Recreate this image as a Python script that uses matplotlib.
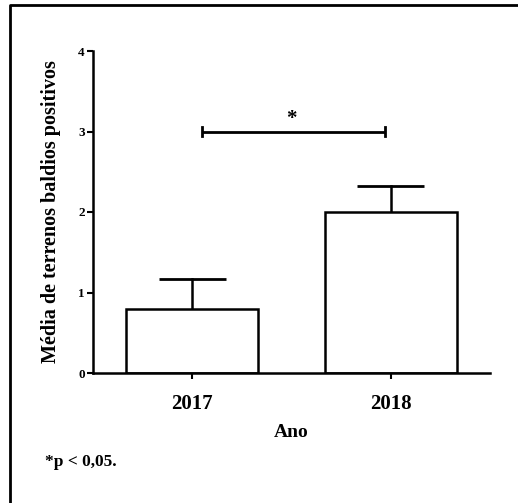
import matplotlib.pyplot as plt
from matplotlib.lines import Line2D

years = ["2017", "2018"]
means = [0.8, 2.0]
errs = [0.37, 0.32]
sig_level = 3.0
sig_label = "*"
footnote = "*p < 0,05."

plt.rcParams['font.family'] = ['Liberation Serif', 'DejaVu Serif']
plt.rcParams['font.weight'] = 'bold'
plt.rcParams['axes.labelweight'] = 'bold'

fig = plt.figure(figsize=(5.18, 5.03), dpi=100)
W, H = 518, 503
ax = fig.add_axes([93 / W, (H - 373) / H, (490 - 93) / W, (373 - 51) / H])

x = list(range(len(years)))
ax.bar(x, means, width=0.667, color='white', edgecolor='black', linewidth=1.8, zorder=2)
# upper whisker only, with cap
for xi, m, e in zip(x, means, errs):
    ax.plot([xi, xi], [m, m + e], color='black', lw=1.8, zorder=1)
    ax.plot([xi - 0.17, xi + 0.17], [m + e, m + e], color='black', lw=2, solid_capstyle='butt')

# significance bracket
ax.plot([0.05, 0.97], [sig_level, sig_level], color='black', lw=2, solid_capstyle='butt')
ax.plot([0.05, 0.05], [sig_level - 0.06, sig_level + 0.06], color='black', lw=2)
ax.plot([0.97, 0.97], [sig_level - 0.06, sig_level + 0.06], color='black', lw=2)
ax.text(0.5, sig_level + 0.03, sig_label, ha='center', va='bottom', fontsize=15)

ax.set_xlim(-0.5, 1.5)
ax.set_ylim(0, 4)
ax.set_yticks([0, 1, 2, 3, 4])
ax.set_xticks(x)
ax.set_xticklabels(years, fontsize=15)
ax.tick_params(axis='y', labelsize=9.5, length=4, width=1.5, pad=2)
ax.tick_params(axis='x', length=4, width=1.5, pad=11)
for s in ['top', 'right']:
    ax.spines[s].set_visible(False)
for s in ['left', 'bottom']:
    ax.spines[s].set_linewidth(1.8)

ax.set_xlabel("Ano", fontsize=14, labelpad=7)
ax.set_ylabel("Média de terrenos baldios positivos", fontsize=14.5, labelpad=12)

fig.text(45 / W, 1 - 462 / H, footnote, fontsize=12.5, va='center', ha='left')

# outer frame: top and left edges only
fig.lines.append(Line2D([10 / W, 10 / W, 1], [0, 1 - 5 / H, 1 - 5 / H], transform=fig.transFigure,
                        color='black', linewidth=2))

fig.savefig("out.png", dpi=100)
